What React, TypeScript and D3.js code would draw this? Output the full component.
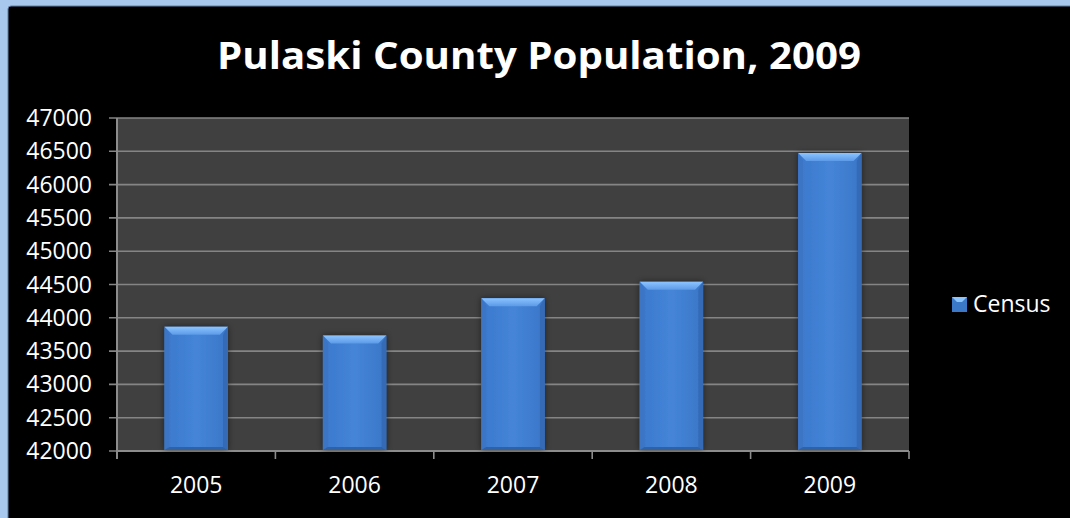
import React from "react";
import * as d3 from "d3";

const title = "Pulaski County Population, 2009";
const years = ["2005", "2006", "2007", "2008", "2009"];
const census = [43865, 43735, 44295, 44540, 46475];
const yTicks = [42000, 42500, 43000, 43500, 44000, 44500, 45000, 45500, 46000, 46500, 47000];
const seriesName = "Census";

const W = 1070;
const H = 518;
const plot = { left: 117, right: 909, top: 118, bottom: 451 };

export default function App() {
  const x = d3
    .scaleBand<string>()
    .domain(years)
    .range([plot.left, plot.right])
    .paddingInner(0.6)
    .paddingOuter(0.3);
  const y = d3.scaleLinear().domain([42000, 47000]).range([plot.bottom, plot.top]);
  const band = (plot.right - plot.left) / years.length;
  const bw = x.bandwidth();
  const bev = 8;
  const font = "'Open Sans', sans-serif";

  return (
    <div style={{ position: "absolute", left: 0, top: 0 }}>
      <svg width={W} height={H} style={{ display: "block" }}>
        <defs>
          <linearGradient id="barFace" x1="0" x2="1" y1="0" y2="0">
            <stop offset="0" stopColor="#3a78cc" />
            <stop offset="0.5" stopColor="#4585d8" />
            <stop offset="1" stopColor="#3a76c8" />
          </linearGradient>
          <linearGradient id="barTop" x1="0" x2="0" y1="0" y2="1">
            <stop offset="0" stopColor="#8cc4ff" />
            <stop offset="1" stopColor="#5c9ae8" />
          </linearGradient>
          <filter id="shadow" x="-30%" y="-10%" width="160%" height="120%">
            <feGaussianBlur in="SourceAlpha" stdDeviation="3" result="b" />
            <feFlood floodColor="#000" floodOpacity="0.5" />
            <feComposite in2="b" operator="in" />
            <feMerge>
              <feMergeNode />
              <feMergeNode in="SourceGraphic" />
            </feMerge>
          </filter>
        </defs>
        {/* frame */}
        <rect x={0} y={0} width={W} height={H} fill="#a8c8ee" />
        <rect x={8} y={6} width={W} height={H} fill="#000" rx={3} stroke="#5f7fa8" strokeWidth={1} />
        <rect x={9} y={7} width={W} height={H} fill="#000" />

        <text
          x={539}
          y={69}
          textAnchor="middle"
          fill="#fff"
          fontFamily={font}
          fontWeight="bold"
          fontSize={38}
          textLength={644}
          lengthAdjust="spacingAndGlyphs"
          style={{ fontVariantLigatures: "none" }}
        >
          {title}
        </text>

        {/* plot area */}
        <rect x={plot.left} y={plot.top} width={plot.right - plot.left} height={plot.bottom - plot.top} fill="#404040" />
        {yTicks.map((t) => (
          <g key={t}>
            <line x1={plot.left - 8} x2={plot.right} y1={y(t)} y2={y(t)} stroke="#858585" strokeWidth={1.6} />
            <text x={92} y={y(t) + 8} textAnchor="end" fill="#fff" fontFamily={font} fontSize={23}>
              {t}
            </text>
          </g>
        ))}
        <line x1={plot.left} x2={plot.left} y1={plot.top} y2={plot.bottom + 8} stroke="#8c8c8c" strokeWidth={2} />
        <line x1={plot.left} x2={plot.right} y1={plot.bottom} y2={plot.bottom} stroke="#8c8c8c" strokeWidth={2} />
        {d3.range(years.length + 1).map((i) => (
          <line
            key={i}
            x1={plot.left + i * band}
            x2={plot.left + i * band}
            y1={plot.bottom}
            y2={plot.bottom + 8}
            stroke="#8c8c8c"
            strokeWidth={1.6}
          />
        ))}

        {/* bars */}
        {years.map((yr, i) => {
          const x0 = x(yr)!;
          const x1 = x0 + bw;
          const y0 = y(census[i]);
          const y1 = plot.bottom - 1;
          return (
            <g key={yr} filter="url(#shadow)">
              <rect x={x0} y={y0} width={bw} height={y1 - y0} fill="url(#barFace)" />
              <path
                d={`M${x0},${y0}L${x1},${y0}L${x1 - bev},${y0 + bev}L${x0 + bev},${y0 + bev}Z`}
                fill="url(#barTop)"
              />
              <path
                d={`M${x0},${y0}L${x0 + bev * 0.6},${y0 + bev}L${x0 + bev * 0.6},${y1 - 3}L${x0},${y1}Z`}
                fill="#3a74c4"
              />
              <path
                d={`M${x1},${y0}L${x1 - bev * 0.6},${y0 + bev}L${x1 - bev * 0.6},${y1 - 3}L${x1},${y1}Z`}
                fill="#346bb6"
              />
              <path
                d={`M${x0},${y1}L${x0 + bev * 0.6},${y1 - 3}L${x1 - bev * 0.6},${y1 - 3}L${x1},${y1}Z`}
                fill="#2f62a8"
              />
            </g>
          );
        })}

        {years.map((yr) => (
          <text key={yr} x={x(yr)! + bw / 2} y={493} textAnchor="middle" fill="#fff" fontFamily={font} fontSize={23}>
            {yr}
          </text>
        ))}

        {/* legend */}
        <g>
          <rect x={952} y={297} width={15} height={15} fill="#3c78c8" />
          <path d="M952,297L967,297L962,302L957,302Z" fill="#8cc4ff" />
          <text x={973} y={312} fill="#fff" fontFamily={font} fontSize={23}>
            {seriesName}
          </text>
        </g>
      </svg>
    </div>
  );
}
